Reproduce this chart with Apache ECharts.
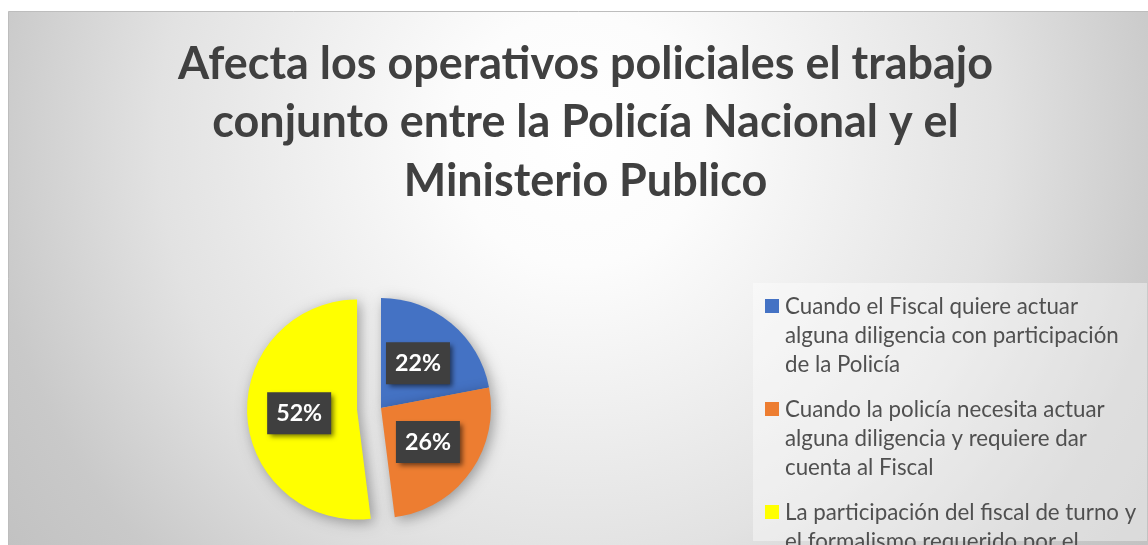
<!DOCTYPE html>
<html><head><meta charset="utf-8">
<script src="https://cdn.jsdelivr.net/npm/echarts@6/dist/echarts.min.js"></script>
<style>html,body{margin:0;padding:0;background:#fff}#c{width:1148px;height:545px}</style>
</head><body><div id="c"></div>
<script>
// ---- data ----
const titleLines = ['Afecta los operativos policiales el trabajo', 'conjunto entre la Policía Nacional y el', 'Ministerio Publico'];
const categories = [
  'Cuando el Fiscal quiere actuar alguna diligencia con participación de la Policía',
  'Cuando la policía necesita actuar alguna diligencia y requiere dar cuenta al Fiscal',
  'La participación del fiscal de turno y el formalismo requerido por el Ministerio Publico'
];
const legendLines = [
  ['Cuando el Fiscal quiere actuar', 'alguna diligencia con participación', 'de la Policía'],
  ['Cuando la policía necesita actuar', 'alguna diligencia y requiere dar', 'cuenta al Fiscal'],
  ['La participación del fiscal de turno y', 'el formalismo requerido por el', 'Ministerio Publico']
];
const values = [22, 26, 52];
const colors = ['#4472C4', '#ED7D31', '#FFFF00'];
const explodedIndex = 2;

// ---- font fitting ----
const ctx = document.createElement('canvas').getContext('2d');
function fit(text, weight, family, target) {
  ctx.font = weight + ' 100px ' + family;
  return 100 * target / ctx.measureText(text).width;
}
const TF = 'Lato';
const titleSize = fit(titleLines[0], 'bold', TF, 815);
const legendSize = fit(legendLines[0][1], 'normal', TF, 334);
const labelSize = fit('22%', 'bold', TF, 46);

const chart = echarts.init(document.getElementById('c'), null, {renderer: 'canvas'});

const graphics = [{
  type: 'rect', z: -10, silent: true,
  shape: {x: 8.5, y: 11.5, width: 1145, height: 540},
  style: {
    fill: {type: 'radial', x: 578, y: 140, r: 700, global: true,
      colorStops: [{offset: 0, color: '#ffffff'}, {offset: 0.18, color: '#fcfcfc'},
                   {offset: 0.6, color: '#e2e2e2'}, {offset: 0.85, color: '#c9c9c9'},
                   {offset: 1, color: '#c2c2c2'}]},
    stroke: '#bdbdbd', lineWidth: 1
  }
}, {
  type: 'rect', z: -5, silent: true,
  shape: {x: 753, y: 283, width: 394, height: 258},
  style: {fill: 'rgba(255,255,255,0.4)'}
}];
legendLines.forEach(function (lines, i) {
  graphics.push({
    type: 'rect', z: 5, silent: true,
    shape: {x: 765, y: 299 + 103 * i, width: 14, height: 14},
    style: {fill: colors[i]}
  });
  graphics.push({
    type: 'text', z: 5, silent: true,
    x: 785, y: 292 + 103 * i,
    style: {text: lines.join('\n'), fontFamily: TF, fontSize: legendSize, lineHeight: 29,
            fill: '#505050', verticalAlign: 'top', align: 'left'}
  });
});

chart.setOption({
  animation: false,
  title: {
    text: titleLines.join('\n'),
    left: 585.5, top: 35, padding: 0, textAlign: 'center',
    textStyle: {fontFamily: TF, fontWeight: 'bold', fontSize: titleSize, lineHeight: 58.5, color: '#404040'}
  },
  graphic: graphics,
  series: [{
    type: 'pie',
    center: [381, 408],
    radius: 110,
    startAngle: 90,
    clockwise: true,
    selectedMode: 'single',
    selectedOffset: 24,
    emphasis: {disabled: true},
    labelLine: {show: false},
    itemStyle: {borderWidth: 0, shadowBlur: 14, shadowColor: 'rgba(0,0,0,0.35)', shadowOffsetX: 3, shadowOffsetY: 3},
    label: {
      show: true, position: 'inside', formatter: '{c}%',
      fontFamily: TF, fontWeight: 'bold', fontSize: labelSize, color: '#ffffff',
      backgroundColor: '#3f3f3f', width: 64, height: 42, lineHeight: 42, align: 'center', verticalAlign: 'middle',
      padding: 0, shadowBlur: 5, shadowColor: 'rgba(0,0,0,0.55)', shadowOffsetX: 3, shadowOffsetY: 3
    },
    data: categories.map(function (name, i) {
      return {name: name, value: values[i], selected: i === explodedIndex, itemStyle: {color: colors[i]}};
    })
  }]
});
</script></body></html>
